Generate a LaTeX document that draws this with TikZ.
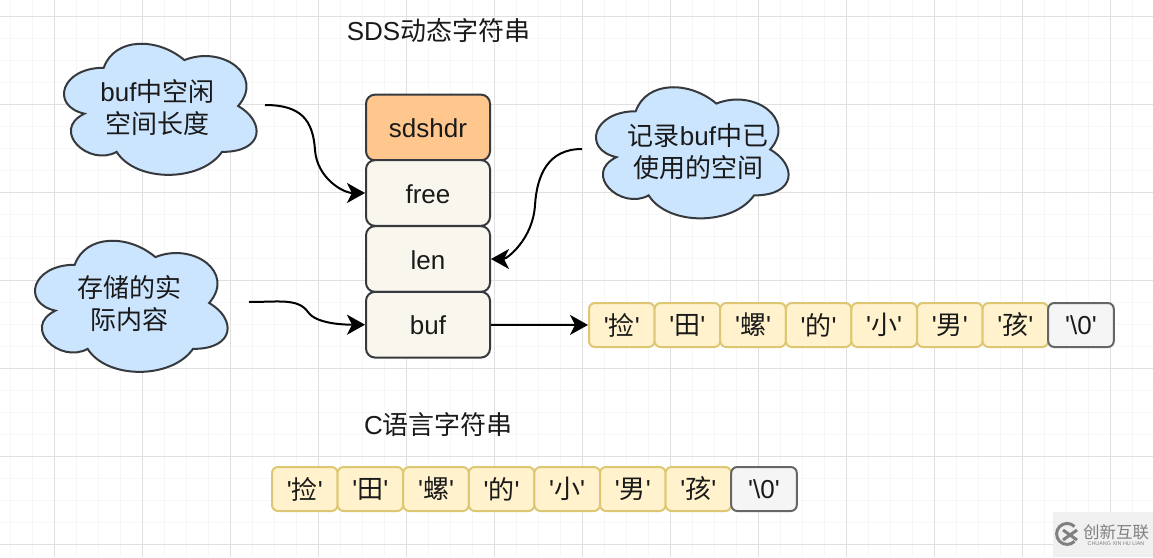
\documentclass[tikz,border=0pt]{standalone}
\usepackage{fontspec}
\newfontfamily\labelfont{Liberation Sans}
\newfontfamily\cjk{Noto Sans CJK SC}
\newcommand{\zh}[1]{{\cjk #1}}
\usetikzlibrary{arrows.meta,calc}
\definecolor{strokedark}{HTML}{36393D}
\definecolor{headfill}{HTML}{FFC78E}
\definecolor{rowfill}{HTML}{F9F7ED}
\definecolor{cellfill}{HTML}{FFF2CC}
\definecolor{cellline}{HTML}{DEC772}
\definecolor{endfill}{HTML}{F5F5F5}
\definecolor{endline}{HTML}{666666}
\definecolor{cloudfill}{HTML}{CCE5FF}
\definecolor{textdark}{HTML}{1A1A1A}
\newcommand{\cloudshape}[1]{%
    \draw[draw=strokedark, fill=cloudfill, line width=2pt, shift={#1}, x=215pt, y=-153pt]
        (0.25,0.25) .. controls (0.05,0.25) and (0,0.5) .. (0.16,0.55)
        .. controls (0,0.66) and (0.18,0.9) .. (0.31,0.8)
        .. controls (0.4,1) and (0.7,1) .. (0.8,0.8)
        .. controls (1,0.8) and (1,0.6) .. (0.875,0.5)
        .. controls (1,0.3) and (0.8,0.1) .. (0.625,0.2)
        .. controls (0.5,0.05) and (0.3,0.05) .. (0.25,0.25) -- cycle;
}

\begin{document}
\begin{tikzpicture}[
    x=1pt,
    y=-1pt,
    font=\fontsize{26}{32}\selectfont\labelfont,
    text=textdark,
    minorgrid/.style={draw=black!3, line width=0.7pt},
    majorgrid/.style={draw=black!12, line width=0.9pt},
    title/.style={inner sep=0pt},
    row/.style={
        draw=strokedark,
        fill=rowfill,
        rounded corners=9pt,
        line width=2pt,
        minimum width=124pt,
        minimum height=65.7pt,
        text height=20pt,
        text depth=0pt,
        inner sep=0pt
    },
    head/.style={row, fill=headfill},
    cell/.style={
        draw=cellline,
        fill=cellfill,
        rounded corners=6pt,
        line width=2pt,
        minimum width=65.6pt,
        minimum height=44pt,
        inner sep=0pt
    },
    endcell/.style={cell, draw=endline, fill=endfill},
    bubble/.style={inner sep=0pt, align=center},
    arr/.style={-{Stealth[length=18pt, width=20pt, inset=5pt]}, line width=2pt, draw=black},
    markbox/.style={fill=black!6, minimum width=100pt, minimum height=45pt, inner sep=0pt},
    marktext/.style={text=black!50, inner sep=0pt}
]
\useasboundingbox (0,0) rectangle (1153,557);
\fill[white] (0,0) rectangle (1153,557);

\draw[minorgrid, xstep=22pt, ystep=22pt, shift={(54.3,16)}] (-54.3,-16) grid (1098.7,541);
\draw[majorgrid, xstep=88pt, ystep=88pt, shift={(54.3,16)}] (-54.3,-16) grid (1098.7,541);

\node[title] (sdstitle) at (438.5,31) {SDS\zh{动态字符串}};
\node[title] (ctitle) at (438.5,425) {C\zh{语言字符串}};

\node[head] (sdshdr) at (428,127.5) {sdshdr};
\node[row] (free) at (428,193) {free};
\node[row] (len) at (428,259) {len};
\node[row] (buf) at (428,324.7) {buf};

\cloudshape{(50,29.5)}
\cloudshape{(582,73)}
\cloudshape{(21,226.5)}

\node[bubble] (freenote) at (157.5,108) {buf\zh{中空闲}\\\zh{空间长度}};
\node[bubble] (lennote) at (698,152) {\zh{记录}buf\zh{中已}\\\zh{使用的空间}};
\node[bubble] (bufnote) at (129.5,304) {\zh{存储的实}\\\zh{际内容}};

\coordinate (freestart) at (265,105);
\coordinate (lenstart) at (582,149);
\coordinate (bufstart) at (249,302);

\node[cell] (sa) at (621.8,325) {'\zh{捡}'};
\node[cell] (sb) at (687.4,325) {'\zh{田}'};
\node[cell] (sc) at (753,325) {'\zh{螺}'};
\node[cell] (sd) at (818.6,325) {'\zh{的}'};
\node[cell] (se) at (884.2,325) {'\zh{小}'};
\node[cell] (sf) at (949.8,325) {'\zh{男}'};
\node[cell] (sg) at (1015.4,325) {'\zh{孩}'};
\node[endcell] (sh) at (1081,325) {'\textbackslash 0'};

\node[cell] (ca) at (304.8,489) {'\zh{捡}'};
\node[cell] (cb) at (370.4,489) {'\zh{田}'};
\node[cell] (cc) at (436,489) {'\zh{螺}'};
\node[cell] (cd) at (501.6,489) {'\zh{的}'};
\node[cell] (ce) at (567.2,489) {'\zh{小}'};
\node[cell] (cf) at (632.8,489) {'\zh{男}'};
\node[cell] (cg) at (698.4,489) {'\zh{孩}'};
\node[endcell] (ch) at (764,489) {'\textbackslash 0'};

\draw[arr] (freestart) .. controls +(36,0) and +(-2,-30) .. (315,150)
    .. controls +(2,28) and +(-22,0) .. (free.west);
\draw[arr] (lenstart) .. controls +(-34,0) and +(2,-30) .. (535,205)
    .. controls +(-2,34) and +(16,0) .. (len.east);
\draw[arr] (bufstart) .. controls +(30,0) and +(-10,-14) .. (308,312)
    .. controls +(8,12) and +(-20,0) .. (buf.west);
\draw[arr] (buf) -- (sa);

\node[markbox] (markbg) at (1103,534.5) {};
\node[marktext, font=\fontsize{16.5}{18}\selectfont\cjk] (markname) at (1116,532) {创新互联};
\node[marktext, font=\fontsize{5.4}{6}\selectfont\labelfont] (markpin) at (1116,544) {CHUANG XIN HU LIAN};
\draw[draw=black!50, line width=3pt] (1074.5,526.5) arc[start angle=45, end angle=315, radius=10.5pt];
\draw[draw=black!50, line width=3pt] (1063,530) -- (1077,540) (1063,540) -- (1077,530);

\end{tikzpicture}
\end{document}
